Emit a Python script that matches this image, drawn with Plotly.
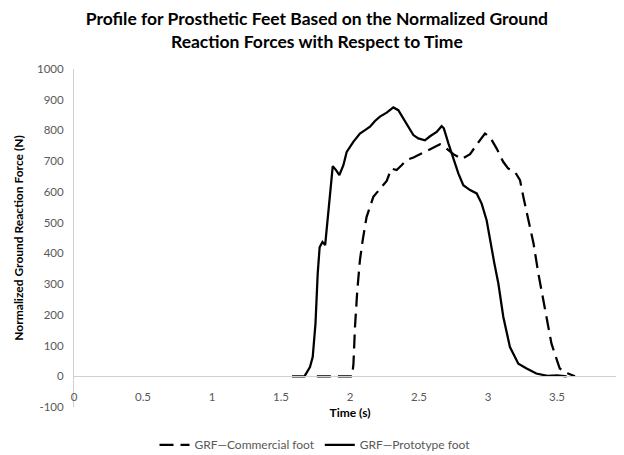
import plotly.graph_objects as go

# ---- data ----
proto_t = [1.58, 1.67, 1.71, 1.73, 1.75, 1.766, 1.78, 1.80, 1.82, 1.83, 1.855, 1.875, 1.899, 1.923,
           1.952, 1.976, 2.024, 2.072, 2.109, 2.145, 2.181, 2.217, 2.266, 2.314, 2.35, 2.41, 2.459,
           2.495, 2.543, 2.58, 2.628, 2.664, 2.68, 2.713, 2.749, 2.785, 2.821, 2.87, 2.918, 2.954,
           2.99, 3.014, 3.045, 3.075, 3.111, 3.159, 3.22, 3.28, 3.35, 3.43, 3.5, 3.57]
proto_f = [0, 0, 30, 63, 172, 335, 420, 437, 427, 475, 573, 684, 671, 655,
           687, 730, 763, 790, 801, 812, 831, 845, 858, 875, 866, 823, 785,
           774, 768, 781, 795, 814, 807, 758, 709, 660, 622, 606, 595, 562,
           508, 442, 370, 302, 193, 95, 41, 25, 9, 1, 3, 0]

comm_t = [1.76, 2.015, 2.025, 2.036, 2.053, 2.072, 2.092, 2.12, 2.169, 2.217, 2.266, 2.30, 2.338,
          2.374, 2.41, 2.46, 2.507, 2.58, 2.652, 2.688, 2.749, 2.81, 2.87, 2.93, 2.978, 3.014,
          3.063, 3.11, 3.147, 3.196, 3.232, 3.256, 3.304, 3.33, 3.365, 3.413, 3.46, 3.50, 3.52,
          3.58, 3.63]
comm_f = [0, 0, 40, 160, 280, 378, 443, 518, 584, 611, 636, 676, 671,
          687, 704, 712, 723, 739, 755, 745, 723, 707, 723, 761, 790, 779,
          741, 698, 676, 665, 638, 584, 486, 432, 334, 215, 106, 52, 25,
          9, 0]

x_tickvals = [0, 0.5, 1, 1.5, 2, 2.5, 3, 3.5, 4]
x_ticktext = ["0", "0.5", "1", "1.5", "2", "2.5", "3", "3.5", "4"]
y_tickvals = list(range(-100, 1001, 100))
y_ticktext = [str(v) for v in y_tickvals]

X_MIN, X_MAX = 0, 4
Y_MIN, Y_MAX = -100, 1000

FONT = "Lato"
AXIS_COL = "#d0d0d0"
TICK_COL = "#595959"

fig = go.Figure()
fig.add_trace(go.Scatter(
    x=comm_t, y=comm_f, mode="lines", name="GRF\u2014Commercial foot",
    line=dict(color="black", width=2.25, dash="14px,7px"),
))
fig.add_trace(go.Scatter(
    x=proto_t, y=proto_f, mode="lines", name="GRF\u2014Prototype foot",
    line=dict(color="black", width=2.25),
))

fig.update_layout(
    width=624, height=455,
    margin=dict(l=66, r=6, t=61, b=56, autoexpand=False),
    paper_bgcolor="white", plot_bgcolor="white",
    font=dict(family=FONT, color="black"),
    title=dict(
        text="<b>Profile for Prosthetic Feet Based on the Normalized Ground<br>"
             "Reaction Forces with Respect to Time</b>",
        font=dict(family=FONT, size=17.5, color="black"),
        xref="container", yref="container", x=0.495, xanchor="center",
        y=0.962, yanchor="top",
    ),
    showlegend=True,
    legend=dict(
        orientation="h", xref="container", yref="container",
        x=0.492, xanchor="center", y=0.04, yanchor="middle",
        font=dict(family=FONT, size=12, color=TICK_COL),
        bgcolor="rgba(0,0,0,0)", itemwidth=30,
    ),
    xaxis=dict(
        range=[X_MIN, X_MAX], tickvals=x_tickvals, ticktext=x_ticktext,
        anchor="free", position=(0 - Y_MIN) / (Y_MAX - Y_MIN),
        showline=True, linecolor=AXIS_COL, linewidth=1,
        showgrid=False, zeroline=False, ticks="", automargin=False,
        ticklabeloverflow="allow",
        tickfont=dict(family=FONT, size=11.5, color=TICK_COL),
        ticklabelstandoff=10,
        title=dict(text="<b>Time (s)</b>", font=dict(family=FONT, size=12, color="black"), standoff=6),
    ),
    yaxis=dict(
        range=[Y_MIN, Y_MAX], tickvals=y_tickvals, ticktext=y_ticktext,
        domain=[0, 1], automargin=False,
        showline=True, linecolor=AXIS_COL, linewidth=1,
        showgrid=False, zeroline=False, ticks="",
        tickfont=dict(family=FONT, size=11.5, color=TICK_COL),
        ticklabelstandoff=7,
        title=dict(text="<b>Normalized Ground Reaction Force (N)</b>",
                   font=dict(family=FONT, size=12, color="black"), standoff=10),
    ),
)

fig.write_html("out.html")
